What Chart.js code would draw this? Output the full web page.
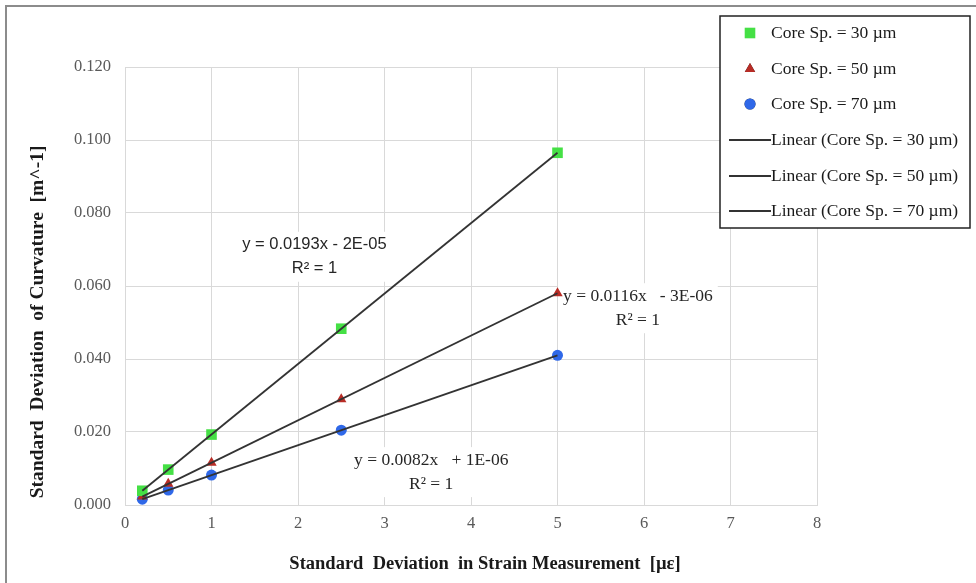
<!DOCTYPE html>
<html lang="en">
<head>
    <meta charset="UTF-8" />
    <title>Standard Deviation of Curvature</title>
    <script src="https://cdn.jsdelivr.net/npm/chart.js"></script>
    <style>
        html, body { margin: 0; padding: 0; background: #fff; }
        #wrap { width: 976px; height: 583px; position: relative; }
    </style>
</head>
<body>
    <div id="wrap"><canvas id="chart" width="976" height="583"></canvas></div>

    <script>
        // strain std-dev values (x axis)
        const strainX = [0.2, 0.5, 1, 2.5, 5];

        // curvature std-dev for each core spacing
        const core30 = [0.0039, 0.0097, 0.0193, 0.0483, 0.0965];
        const core50 = [0.0023, 0.0058, 0.0116, 0.0290, 0.0580];
        const core70 = [0.0016, 0.0041, 0.0082, 0.0205, 0.0410];

        // trendline end points (first and last x)
        const trendX = [0.2, 5];
        const trend30 = [0.0039, 0.0965];
        const trend50 = [0.0023, 0.0580];
        const trend70 = [0.0016, 0.0410];

        const seriesLabels = ["Core Sp. = 30 µm", "Core Sp. = 50 µm", "Core Sp. = 70 µm"];
        const trendLabels = ["Linear (Core Sp. = 30 µm)", "Linear (Core Sp. = 50 µm)", "Linear (Core Sp. = 70 µm)"];

        const yTicks = [0, 0.02, 0.04, 0.06, 0.08, 0.1, 0.12];
        const xTicks = [0, 1, 2, 3, 4, 5, 6, 7, 8];

        const equations = [
            { lines: ["y = 0.0193x - 2E-05", "R² = 1"], x: 2.19, y: 0.0713, font: "16.5px 'Liberation Sans', Arial, sans-serif" },
            { lines: ["y = 0.0116x   - 3E-06", "R² = 1"], x: 5.93, y: 0.0572, font: "17.5px 'Liberation Serif', serif" },
            { lines: ["y = 0.0082x   + 1E-06", "R² = 1"], x: 3.54, y: 0.0123, font: "17.5px 'Liberation Serif', serif" }
        ];

        const toPts = (xs, ys) => xs.map((x, i) => ({ x: x, y: ys[i] }));

        const serif = "'Liberation Serif', 'Times New Roman', serif";
        const trendColor = "#333";

        // white background + grey frame on top / left
        const framePlugin = {
            id: "frame",
            beforeDraw(chart) {
                const ctx = chart.ctx;
                ctx.save();
                ctx.fillStyle = "#fff";
                ctx.fillRect(0, 0, chart.width, chart.height);
                ctx.strokeStyle = "#8c8c8c";
                ctx.lineWidth = 2;
                ctx.beginPath();
                ctx.moveTo(6, chart.height);
                ctx.lineTo(6, 6);
                ctx.lineTo(chart.width, 6);
                ctx.stroke();
                ctx.restore();
            }
        };

        // equation labels sit over the grid but under the data
        const equationPlugin = {
            id: "equations",
            beforeDatasetsDraw(chart) {
                const ctx = chart.ctx;
                const xs = chart.scales.x, ys = chart.scales.y;
                ctx.save();
                equations.forEach(eq => {
                    const cx = xs.getPixelForValue(eq.x);
                    const cy = ys.getPixelForValue(eq.y);
                    ctx.font = eq.font;
                    const w = Math.max(...eq.lines.map(l => ctx.measureText(l).width)) + 10;
                    ctx.fillStyle = "#fff";
                    ctx.fillRect(cx - w / 2, cy - 13, w, 50);
                    ctx.fillStyle = "#262626";
                    ctx.textAlign = "center";
                    ctx.textBaseline = "middle";
                    eq.lines.forEach((l, i) => ctx.fillText(l, cx, cy + i * 24));
                });
                ctx.restore();
            }
        };

        // axis titles + legend box
        const extrasPlugin = {
            id: "extras",
            afterDraw(chart) {
                const ctx = chart.ctx;
                ctx.save();

                ctx.fillStyle = "#1a1a1a";
                ctx.textAlign = "center";
                ctx.textBaseline = "middle";
                ctx.font = "bold 18.5px " + serif;
                ctx.fillText("Standard  Deviation  in Strain Measurement  [µε]", 485, 564);
                ctx.save();
                ctx.translate(38, 322);
                ctx.rotate(-Math.PI / 2);
                ctx.font = "bold 19.5px " + serif;
                ctx.fillText("Standard  Deviation  of Curvature  [m^-1]", 0, 0);
                ctx.restore();

                // legend
                const bx = 720, by = 16, bw = 250, bh = 212;
                ctx.fillStyle = "#fff";
                ctx.fillRect(bx, by, bw, bh);
                ctx.strokeStyle = "#222";
                ctx.lineWidth = 1.5;
                ctx.strokeRect(bx, by, bw, bh);

                const rows = [33, 69, 104, 140, 176, 211];
                const ds = chart.data.datasets;
                ctx.font = "17.5px " + serif;
                ctx.textAlign = "left";
                ds.forEach((d, i) => {
                    const ry = rows[i];
                    if (d.showLine) {
                        ctx.strokeStyle = trendColor;
                        ctx.lineWidth = 1.8;
                        ctx.beginPath();
                        ctx.moveTo(729, ry);
                        ctx.lineTo(771, ry);
                        ctx.stroke();
                    } else {
                        Chart.helpers.drawPoint(ctx, {
                            pointStyle: d.pointStyle, radius: d.pointRadius, borderWidth: 0
                        }, 750, ry);
                        ctx.fillStyle = d.backgroundColor;
                        ctx.fill();
                    }
                    ctx.fillStyle = "#1a1a1a";
                    ctx.fillText(d.label, 771, ry);
                });
                ctx.restore();
            }
        };

        const markerSet = (label, data, style, color, r) => ({
            label: label,
            data: data,
            pointStyle: style,
            pointRadius: r,
            pointHoverRadius: r,
            backgroundColor: color,
            borderColor: color,
            borderWidth: 0,
            showLine: false,
            order: 2
        });

        const lineSet = (label, data) => ({
            label: label,
            data: data,
            showLine: true,
            borderColor: trendColor,
            borderWidth: 1.8,
            pointRadius: 0,
            fill: false,
            order: 1
        });

        new Chart(document.getElementById("chart"), {
            type: "scatter",
            data: {
                datasets: [
                    markerSet(seriesLabels[0], toPts(strainX, core30), "rect", "#45e045", 7.5),
                    markerSet(seriesLabels[1], toPts(strainX, core50), "triangle", "#b82c25", 6),
                    markerSet(seriesLabels[2], toPts(strainX, core70), "circle", "#2f68e8", 5.5),
                    lineSet(trendLabels[0], toPts(trendX, trend30)),
                    lineSet(trendLabels[1], toPts(trendX, trend50)),
                    lineSet(trendLabels[2], toPts(trendX, trend70))
                ]
            },
            options: {
                responsive: false,
                animation: false,
                layout: { padding: { top: 67, right: 159, left: 0, bottom: 0 } },
                plugins: {
                    legend: { display: false },
                    tooltip: { enabled: false }
                },
                scales: {
                    x: {
                        type: "linear",
                        min: xTicks[0],
                        max: xTicks[xTicks.length - 1],
                        afterBuildTicks: s => { s.ticks = xTicks.map(v => ({ value: v })); },
                        afterFit: s => { s.height = 78; },
                        grid: { color: "#d9d9d9", drawTicks: false, lineWidth: 1 },
                        border: { color: "#d9d9d9" },
                        ticks: {
                            color: "#595959",
                            font: { family: serif, size: 16.5 },
                            padding: 9,
                            callback: v => String(v)
                        }
                    },
                    y: {
                        type: "linear",
                        min: yTicks[0],
                        max: yTicks[yTicks.length - 1],
                        afterBuildTicks: s => { s.ticks = yTicks.map(v => ({ value: v })); },
                        afterFit: s => { s.width = 125; },
                        grid: { color: "#d9d9d9", drawTicks: false, lineWidth: 1 },
                        border: { color: "#d9d9d9" },
                        ticks: {
                            color: "#595959",
                            font: { family: serif, size: 16.5 },
                            padding: 14,
                            callback: v => v.toFixed(3)
                        }
                    }
                }
            },
            plugins: [framePlugin, equationPlugin, extrasPlugin]
        });
    </script>
</body>
</html>
